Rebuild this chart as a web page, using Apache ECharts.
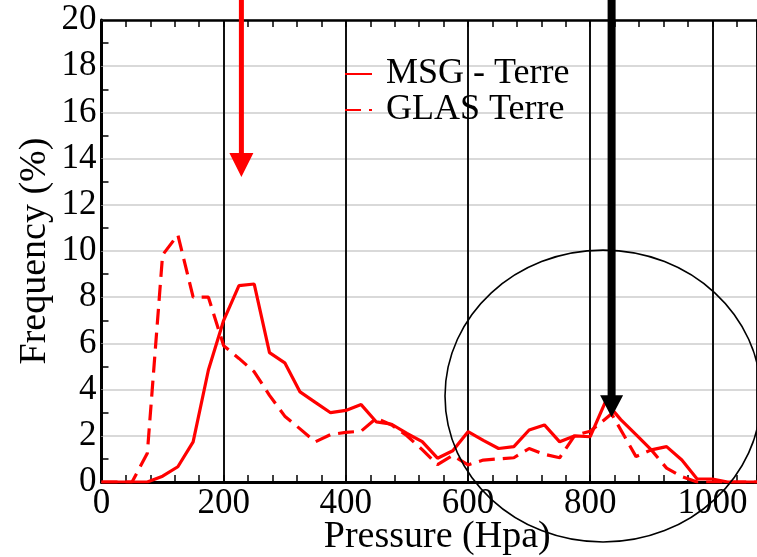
<!DOCTYPE html>
<html><head><meta charset="utf-8">
<script src="https://cdn.jsdelivr.net/npm/echarts@6/dist/echarts.min.js"></script>
<style>html,body{margin:0;padding:0;background:#fff}#c{width:757px;height:557px}</style>
</head><body><div id="c"></div>
<script>
// ---- data ----
const seriesNames = ['MSG - Terre', 'GLAS Terre'];
const pressureMSG = [0,25,50,75,100,125,150,175,200,225,250,275,300,325,350,375,400,425,450,475,500,525,550,575,600,625,650,675,700,725,750,775,800,825,850,875,900,925,950,975,1000,1025,1050,1075];
const freqMSG     = [0,0,0,0,0.25,0.66,1.74,4.85,7.0,8.5,8.57,5.6,5.16,3.9,3.45,3.0,3.1,3.35,2.6,2.5,2.1,1.75,1.03,1.35,2.18,1.8,1.45,1.53,2.25,2.47,1.74,2.0,1.96,3.48,2.7,2.05,1.39,1.53,0.95,0.13,0.13,0,0,0];
const pressureGLAS = [0,25,50,75,100,125,150,175,200,225,250,275,300,325,350,375,400,425,450,475,500,525,550,575,600,625,650,675,700,725,750,775,800,835,875,900,925,950,975,1000,1025,1050,1075];
const freqGLAS     = [0,0,0,1.24,9.83,10.7,8.0,8.0,5.9,5.35,4.77,3.75,2.85,2.3,1.74,2.05,2.15,2.2,2.76,2.47,2.0,1.4,0.75,1.15,0.74,0.95,1.0,1.05,1.45,1.2,1.05,2.03,2.2,2.95,1.1,1.39,0.6,0.23,0,0,0,0,0];
const xTickLabels = [0,200,400,600,800,1000];
const yTickLabels = [0,2,4,6,8,10,12,14,16,18,20];
// annotation anchors (data coordinates)
const redArrowTip = [229, 13.2];
const blackArrowTip = [835, 2.8];
const ellipseCenter = [821, 3.72];
const ellipseRadii = [258.7, 6.32];

const FONT = 'Liberation Serif';
const el = document.getElementById('c');
const chart = echarts.init(el, null, {renderer: 'canvas'});

const zip = (xs, ys) => xs.map((x, i) => [x, ys[i]]);

const option = {
  animation: false,
  backgroundColor: '#fff',
  grid: {left: 101.5, top: 20, right: 0, bottom: 75, containLabel: false, outerBoundsMode: 'none'},
  legend: {
    orient: 'vertical', left: 344, top: 56, padding: 0, itemGap: 0,
    itemWidth: 27, itemHeight: 12,
    data: seriesNames,
    itemStyle: {opacity: 0},
    textStyle: {fontFamily: FONT, fontSize: 36, color: '#000', lineHeight: 31, padding: [0, 0, 0, 9]}
  },
  xAxis: [{
    type: 'value', min: 0, max: 1073, interval: 200, position: 'bottom',
    name: 'Pressure (Hpa)', nameLocation: 'middle', nameGap: 36, nameMoveOverlap: false,
    nameTextStyle: {fontFamily: FONT, fontSize: 38, color: '#000', padding: [0, 0, 0, 16]},
    axisLine: {onZero: false, lineStyle: {color: '#000', width: 3}},
    axisTick: {show: true, inside: true, length: 7, lineStyle: {color: '#000', width: 1.5}},
    minorTick: {show: true, splitNumber: 5, length: 7, lineStyle: {color: '#000', width: 1.5}},
    axisLabel: {fontFamily: FONT, fontSize: 35, color: '#000', margin: 4,
      formatter: v => xTickLabels.indexOf(v) >= 0 ? String(v) : ''},
    splitLine: {show: true, lineStyle: {color: '#111', width: 2}}
  }, {
    type: 'value', min: 0, max: 1073, interval: 200, position: 'top',
    axisLine: {onZero: false, lineStyle: {color: '#000', width: 2.5}},
    axisTick: {show: true, inside: true, length: 7, lineStyle: {color: '#000', width: 1.5}},
    minorTick: {show: true, splitNumber: 5, length: 7, lineStyle: {color: '#000', width: 1.5}},
    axisLabel: {show: false},
    splitLine: {show: false}
  }],
  yAxis: {
    type: 'value', min: 0, max: 20, interval: 2,
    name: 'Frequency (%)', nameLocation: 'middle', nameGap: 47, nameMoveOverlap: false,
    nameTextStyle: {fontFamily: FONT, fontSize: 38, color: '#000'},
    axisLine: {show: true, onZero: false, lineStyle: {color: '#000', width: 3}},
    axisTick: {show: true, inside: true, length: 1, lineStyle: {color: '#d9d9d9', width: 1}},
    minorTick: {show: true, splitNumber: 2, length: 7, lineStyle: {color: '#000', width: 1.5}},
    axisLabel: {fontFamily: FONT, fontSize: 35, color: '#000', margin: 5,
      formatter: v => yTickLabels.indexOf(v) >= 0 ? String(v) : ''},
    splitLine: {show: true, lineStyle: {color: '#d9d9d9', width: 2}}
  },
  series: [{
    name: seriesNames[0], type: 'line', xAxisIndex: 0, yAxisIndex: 0,
    data: zip(pressureMSG, freqMSG), symbol: 'none',
    lineStyle: {color: '#ff0000', width: 3.2, type: 'solid'}, itemStyle: {color: '#ff0000'}, z: 3
  }, {
    name: seriesNames[1], type: 'line', xAxisIndex: 0, yAxisIndex: 0,
    data: zip(pressureGLAS, freqGLAS), symbol: 'none',
    lineStyle: {color: '#ff0000', width: 3.2, type: [16, 8]}, itemStyle: {color: '#ff0000'}, z: 3
  }]
};
chart.setOption(option);

const px = p => chart.convertToPixel({xAxisIndex: 0, yAxisIndex: 0}, p);
function arrow(tip, shaftW, headLen, headHalf, color) {
  const [x, y] = px(tip);
  const b = y - headLen;
  return {
    type: 'polygon', z: 100,
    shape: {points: [[x - shaftW / 2, 0], [x + shaftW / 2, 0], [x + shaftW / 2, b], [x + headHalf, b], [x, y], [x - headHalf, b], [x - shaftW / 2, b]]},
    style: {fill: color}
  };
}
const c = px(ellipseCenter);
const e = px([ellipseCenter[0] + ellipseRadii[0], ellipseCenter[1] + ellipseRadii[1]]);
chart.setOption({
  graphic: [
    arrow(redArrowTip, 5, 24, 12, '#ff0000'),
    arrow(blackArrowTip, 8, 22, 11.5, '#000000'),
    {type: 'ellipse', z: 99, shape: {cx: c[0], cy: c[1], rx: Math.abs(e[0] - c[0]), ry: Math.abs(c[1] - e[1])},
     style: {fill: null, stroke: '#000', lineWidth: 1.6}}
  ]
});
</script></body></html>
